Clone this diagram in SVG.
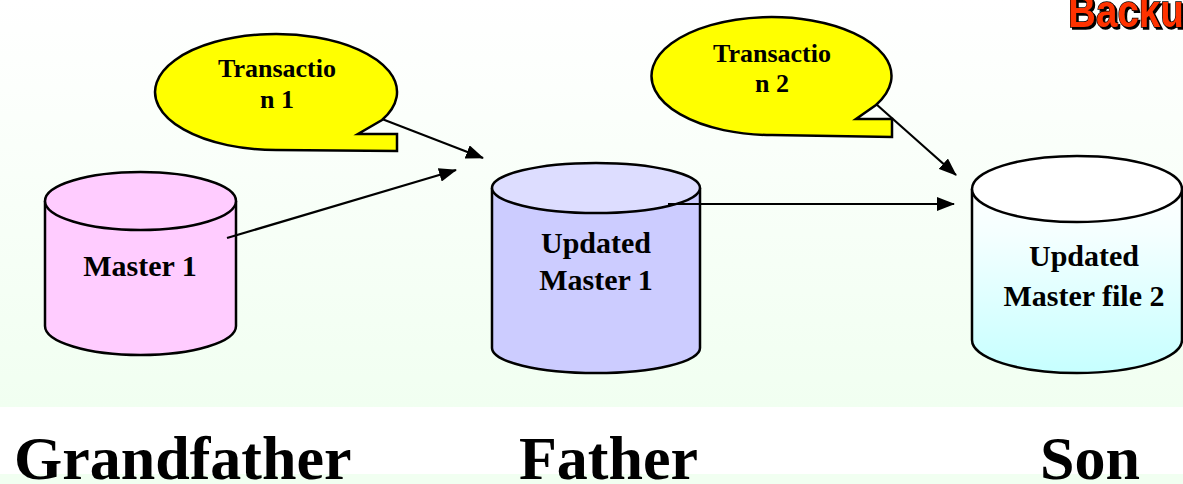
<svg xmlns="http://www.w3.org/2000/svg" width="1183" height="484" viewBox="0 0 1183 484">
  <defs>
    <linearGradient id="bg" x1="0" y1="0" x2="0" y2="1">
      <stop offset="0" stop-color="#ffffff"/>
      <stop offset="1" stop-color="#f1fff1"/>
    </linearGradient>
    <linearGradient id="cyan" x1="0" y1="0" x2="0" y2="1">
      <stop offset="0" stop-color="#ffffff"/>
      <stop offset="0.25" stop-color="#f4ffff"/>
      <stop offset="1" stop-color="#c6ffff"/>
    </linearGradient>
    <marker id="arrow" viewBox="0 0 18 14" refX="17" refY="7" markerWidth="18" markerHeight="14" markerUnits="userSpaceOnUse" orient="auto">
      <path d="M0,0 L18,7 L0,14 Z" fill="#000"/>
    </marker>
    <filter id="shadow" x="-10%" y="-20%" width="130%" height="150%">
      <feOffset dx="2" dy="2" in="SourceAlpha" result="off"/>
      <feFlood flood-color="#000"/>
      <feComposite in2="off" operator="in" result="sh"/>
      <feMerge><feMergeNode in="sh"/><feMergeNode in="SourceGraphic"/></feMerge>
    </filter>
  </defs>
  <style>
    .outline { stroke: #000; stroke-width: 2.5; }
    .lbl { font-family: "Liberation Serif", "Times New Roman", serif; font-weight: bold; fill: #000; text-anchor: middle; }
    .bubble-txt { font-size: 26px; }
    .cyl-txt { font-size: 30px; }
    .gen { font-family: "Liberation Serif", "Times New Roman", serif; font-weight: bold; font-size: 62px; fill: #000; }
    .conn { stroke: #000; stroke-width: 2.2; fill: none; marker-end: url(#arrow); }
  </style>

  <!-- slide background -->
  <rect x="0" y="0" width="1183" height="407" fill="url(#bg)"/>
  <rect x="0" y="407" width="1183" height="67" fill="#ffffff"/>
  <rect x="0" y="474" width="1183" height="10" fill="#f1fff1"/>

  <!-- title fragment at the top right -->
  <text transform="translate(1068,27) scale(0.84,1)" x="0" y="0" font-family="Liberation Sans, Arial, sans-serif" font-weight="bold" font-size="46" fill="#ff3300" stroke="#000" stroke-width="1.4" paint-order="stroke" filter="url(#shadow)">Backu</text>

  <!-- callout: Transaction 1 -->
  <g id="transaction1">
    <path class="outline" fill="#ffff00" d="M382,120 A121,58 0 1 0 276,150 L397,151 L397,134 L358,134 Z"/>
    <text class="lbl bubble-txt" x="277" y="77">Transactio</text>
    <text class="lbl bubble-txt" x="277" y="108">n 1</text>
  </g>

  <!-- callout: Transaction 2 -->
  <g id="transaction2">
    <path class="outline" fill="#ffff00" d="M876,105 A120,59 0 1 0 772,135 L892,137 L892,119 L856,119 Z"/>
    <text class="lbl bubble-txt" x="772" y="62">Transactio</text>
    <text class="lbl bubble-txt" x="772" y="92">n 2</text>
  </g>

  <!-- grandfather file -->
  <g id="master1">
    <path class="outline" fill="#ffccff" d="M45,201 V326 A95.5,29 0 0 0 236,326 V201"/>
    <ellipse class="outline" fill="#ffccff" cx="140.5" cy="201" rx="95.5" ry="29"/>
    <text class="lbl cyl-txt" x="140" y="276" font-size="31">Master 1</text>
  </g>

  <!-- father file -->
  <g id="updated-master1">
    <path class="outline" fill="#ccccff" d="M492,188 V348 A104,25 0 0 0 700,348 V188"/>
    <ellipse class="outline" fill="#ddddff" cx="596" cy="188" rx="104" ry="25"/>
    <text class="lbl cyl-txt" x="596" y="253">Updated</text>
    <text class="lbl cyl-txt" x="596" y="290">Master 1</text>
  </g>

  <!-- son file -->
  <g id="updated-master2">
    <path class="outline" fill="url(#cyan)" d="M972,189 V340 A105,33 0 0 0 1182,340 V189"/>
    <ellipse class="outline" fill="#ffffff" cx="1077" cy="189" rx="105" ry="33"/>
    <text class="lbl cyl-txt" x="1084" y="266">Updated</text>
    <text class="lbl cyl-txt" x="1084" y="306">Master file 2</text>
  </g>

  <!-- connectors -->
  <g id="connectors">
    <line class="conn" x1="382" y1="119" x2="483" y2="158"/>
    <line class="conn" x1="227" y1="238" x2="456" y2="170"/>
    <line class="conn" x1="668" y1="204" x2="954" y2="204"/>
    <line class="conn" x1="876" y1="104" x2="956" y2="175"/>
  </g>

  <!-- generation labels -->
  <g id="generations">
    <text class="gen" x="14" y="479">Grandfather</text>
    <text class="gen" x="519" y="479">Father</text>
    <text class="gen" x="1040" y="479">Son</text>
  </g>
</svg>
